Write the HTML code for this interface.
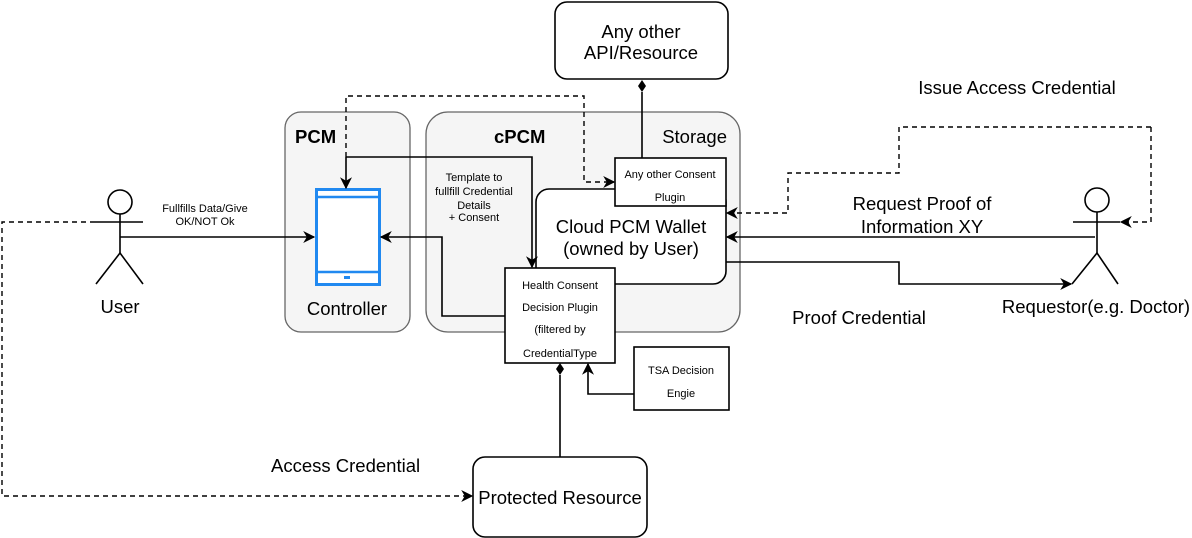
<!DOCTYPE html>
<html><head><meta charset="utf-8"><style>
html,body{margin:0;padding:0;background:#fff;}
svg{display:block;font-family:"Liberation Sans",Arial,sans-serif;}
</style></head><body>
<svg width="1192" height="538" viewBox="0 0 1192 538" xmlns="http://www.w3.org/2000/svg">
<defs>
<marker id="a" viewBox="0 0 10 10" refX="9" refY="5" markerWidth="12" markerHeight="12" orient="auto" markerUnits="userSpaceOnUse">
<path d="M0,0 L10,5 L0,10 L3,5 Z" fill="#000"/></marker>
</defs>
<!-- containers -->
<rect x="285" y="112" width="125" height="220" rx="16" fill="#f5f5f5" stroke="#666" stroke-width="1.3"/>
<rect x="426" y="112" width="314" height="220" rx="22" fill="#f5f5f5" stroke="#666" stroke-width="1.3"/>
<text x="295" y="143" font-size="18.5" font-weight="bold">PCM</text>
<text x="494" y="143" font-size="18.5" font-weight="bold">cPCM</text>
<text x="727" y="143" font-size="18.5" text-anchor="end">Storage</text>
<!-- phone -->
<rect x="316.5" y="189.5" width="63" height="95" fill="#fff" stroke="#2189f0" stroke-width="3"/>
<line x1="316" y1="197" x2="380" y2="197" stroke="#2189f0" stroke-width="2.5"/>
<line x1="316" y1="272" x2="380" y2="272" stroke="#2189f0" stroke-width="2.5"/>
<rect x="344" y="276" width="6" height="3" fill="#2189f0"/>
<text x="347" y="315" font-size="18.5" text-anchor="middle">Controller</text>
<!-- cloud wallet -->
<rect x="536" y="189" width="190" height="95" rx="13" fill="#fff" stroke="#000" stroke-width="1.6"/>
<text x="631" y="233" font-size="18.5" text-anchor="middle">Cloud PCM Wallet</text>
<text x="631" y="255" font-size="18.5" text-anchor="middle">(owned by User)</text>
<rect x="615" y="158" width="111" height="48" fill="#fff" stroke="#000" stroke-width="1.6"/>
<text x="670" y="178" font-size="11" text-anchor="middle">Any other Consent</text>
<text x="670" y="201" font-size="11" text-anchor="middle">Plugin</text>
<rect x="505" y="268" width="110" height="95" fill="#fff" stroke="#000" stroke-width="1.6"/>
<text x="560" y="289" font-size="11" text-anchor="middle">Health Consent</text>
<text x="560" y="311" font-size="11" text-anchor="middle">Decision Plugin</text>
<text x="560" y="333" font-size="11" text-anchor="middle">(filtered by</text>
<text x="560" y="357" font-size="11" text-anchor="middle">CredentialType</text>
<text x="474" y="181" font-size="11" text-anchor="middle">Template to</text>
<text x="474" y="195" font-size="11" text-anchor="middle">fullfill Credential</text>
<text x="474" y="209" font-size="11" text-anchor="middle">Details</text>
<text x="474" y="221" font-size="11" text-anchor="middle">+ Consent</text>
<!-- API box -->
<rect x="555" y="2" width="173" height="77" rx="12" fill="#fff" stroke="#000" stroke-width="1.6"/>
<text x="641" y="38" font-size="18.5" text-anchor="middle">Any other</text>
<text x="641" y="59" font-size="18.5" text-anchor="middle">API/Resource</text>
<line x1="642" y1="158" x2="642" y2="92" stroke="#000" stroke-width="1.6"/>
<path d="M642,80 L646,86 L642,92 L638,86 Z" fill="#000"/>
<!-- TSA -->
<rect x="634" y="347" width="95" height="63" fill="#fff" stroke="#000" stroke-width="1.6"/>
<text x="681" y="374" font-size="11" text-anchor="middle">TSA Decision</text>
<text x="681" y="397" font-size="11" text-anchor="middle">Engie</text>
<polyline points="634,394 588,394 588,364" fill="none" stroke="#000" stroke-width="1.6" marker-end="url(#a)"/>
<!-- protected -->
<rect x="473" y="457" width="174" height="80" rx="12" fill="#fff" stroke="#000" stroke-width="1.6"/>
<text x="560" y="504" font-size="18.5" text-anchor="middle">Protected Resource</text>
<line x1="560" y1="457" x2="560" y2="375" stroke="#000" stroke-width="1.6"/>
<path d="M560,363 L564,369 L560,375 L556,369 Z" fill="#000"/>
<!-- connectors -->
<polyline points="346,157 532,157 532,267" fill="none" stroke="#000" stroke-width="1.6" marker-end="url(#a)"/>
<polyline points="346,157 346,188" fill="none" stroke="#000" stroke-width="1.6" marker-end="url(#a)"/>
<polyline points="346,157 346,96 584,96 584,182 614,182" fill="none" stroke="#000" stroke-width="1.4" stroke-dasharray="5,4" marker-end="url(#a)"/>
<polyline points="505,316 442,316 442,237 381,237" fill="none" stroke="#000" stroke-width="1.6" marker-end="url(#a)"/>
<polyline points="120,237 314,237" fill="none" stroke="#000" stroke-width="1.6" marker-end="url(#a)"/>
<text x="205" y="212" font-size="11" text-anchor="middle">Fullfills Data/Give</text>
<text x="205" y="225" font-size="11" text-anchor="middle">OK/NOT Ok</text>
<polyline points="95,222 2,222 2,496 472,496" fill="none" stroke="#000" stroke-width="1.4" stroke-dasharray="5,4" marker-end="url(#a)"/>
<text x="271" y="472" font-size="18.5">Access Credential</text>
<!-- requestor lines -->
<polyline points="1095,237 727,237" fill="none" stroke="#000" stroke-width="1.6" marker-end="url(#a)"/>
<polyline points="726,262 899,262 899,284 1071,284" fill="none" stroke="#000" stroke-width="1.6" marker-end="url(#a)"/>
<polyline points="1151,127 1151,222 1121,222" fill="none" stroke="#000" stroke-width="1.4" stroke-dasharray="5,4" marker-end="url(#a)"/>
<polyline points="1151,127 899,127 899,173 788,173 788,213 727,213" fill="none" stroke="#000" stroke-width="1.4" stroke-dasharray="5,4" marker-end="url(#a)"/>
<text x="922" y="210" font-size="18.5" text-anchor="middle">Request Proof  of</text>
<text x="922" y="233" font-size="18.5" text-anchor="middle">Information XY</text>
<text x="859" y="324" font-size="18.5" text-anchor="middle">Proof Credential</text>
<text x="1017" y="94" font-size="18.5" text-anchor="middle">Issue Access Credential</text>
<!-- actors -->
<g fill="none" stroke="#000" stroke-width="1.6">
<circle cx="120" cy="202" r="12" fill="#fff"/>
<line x1="120" y1="214" x2="120" y2="253"/>
<line x1="95" y1="222" x2="143" y2="222"/>
<polyline points="96,284 120,253 143,284"/>
<circle cx="1097" cy="200" r="12" fill="#fff"/>
<line x1="1097" y1="212" x2="1097" y2="253"/>
<line x1="1073" y1="222" x2="1120" y2="222"/>
<polyline points="1072,284 1097,253 1118,284"/>
</g>
<text x="120" y="313" font-size="18.5" text-anchor="middle">User</text>
<text x="1096" y="313" font-size="18.5" text-anchor="middle">Requestor(e.g. Doctor)</text>
</svg>
</body></html>
